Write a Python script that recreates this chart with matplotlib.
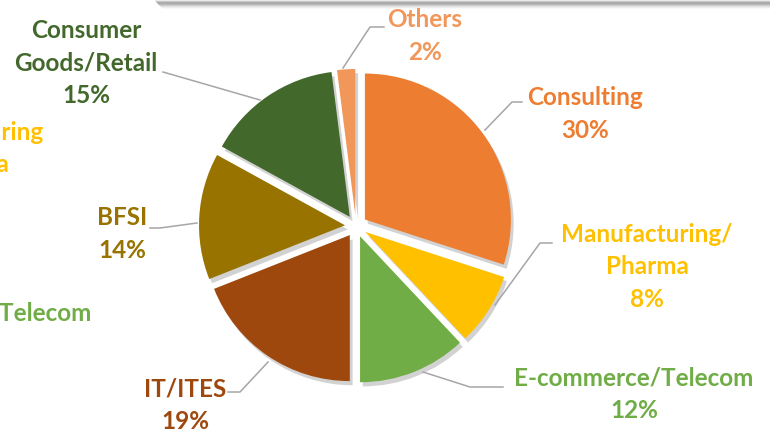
import matplotlib
matplotlib.use("Agg")
import matplotlib.pyplot as plt
import matplotlib.patheffects as pe

# Datos del gráfico (sentido horario desde las 12)
sectores = ["Consulting", "Manufacturing/\nPharma", "E-commerce/Telecom", "IT/ITES",
            "BFSI", "Consumer\nGoods/Retail", "Others"]
porcentajes = [30, 8, 12, 19, 14, 15, 2]
colores = ["#ED7D31", "#FFC000", "#70AD47", "#9E480E", "#997300", "#43682B", "#F1975A"]

H = 432
def iy(y):
    # coordenada de imagen (y hacia abajo) -> datos
    return H - y

fig = plt.figure(figsize=(7.7, 4.32), dpi=100)
ax = fig.add_axes([0, 0, 1, 1])

sombra = [pe.SimplePatchShadow(offset=(2, -3), shadow_rgbFace="#7f7f7f", alpha=0.35), pe.Normal()]
wedges, _ = ax.pie(porcentajes, colors=colores, startangle=90, counterclock=False,
                   explode=[11] * len(porcentajes), radius=146, center=(356, iy(226)),
                   wedgeprops=dict(linewidth=0, path_effects=sombra))

ax.set_xlim(0, 770)
ax.set_ylim(0, H)
ax.set_aspect("equal")
ax.axis("off")

# sombra de la caja superior
for i, a in enumerate([0.12, 0.25, 0.33, 0.28, 0.2, 0.12, 0.07, 0.03]):
    ax.plot([155 + i, 770], [iy(1 + i), iy(1 + i)], color="#404040", alpha=a, lw=1.2,
            solid_capstyle="butt")

fuente = dict(family="Lato", weight="bold", fontsize=17.5, ha="center", va="center",
              linespacing=1.5)

# etiquetas: (texto, x, y centro, color)
etiquetas = [
    ("Consulting\n30%", 585, 114, "#ED7D31"),
    ("Manufacturing/\nPharma\n8%", 647, 267, "#FFC000"),
    ("E-commerce/Telecom\n12%", 634, 394, "#70AD47"),
    ("IT/ITES\n19%", 185, 405, "#9E480E"),
    ("BFSI\n14%", 122, 234, "#997300"),
    ("Consumer\nGoods/Retail\n15%", 86, 63, "#43682B"),
    ("Others\n2%", 425, 36, "#F1975A"),
]
for txt, x, y, c in etiquetas:
    ax.text(x, iy(y), txt, color=c, **fuente)

# etiquetas fantasma recortadas a la izquierda (como en la diapositiva original)
fantasma = dict(family="Lato", weight="bold", fontsize=17.5, ha="right", va="center")
ax.text(43, iy(133), "Manufacturing", color="#FFC000", **fantasma)
ax.text(9, iy(165), "Pharma", color="#FFC000", **fantasma)
ax.text(91, iy(313), "E-commerce/Telecom", color="#70AD47", **fantasma)

# líneas guía
guias = [
    [(384, 27), (370, 27), (343, 68)],
    [(522, 102), (512, 102), (485, 130)],
    [(552, 243), (540, 243), (495, 305)],
    [(503, 387), (470, 387), (423, 372)],
    [(228, 392), (240, 392), (268, 362)],
    [(150, 228), (160, 228), (197, 223)],
    [(163, 72), (260, 100)],
]
for g in guias:
    xs = [p[0] for p in g]
    ys = [iy(p[1]) for p in g]
    ax.plot(xs, ys, color="#A6A6A6", lw=1.1)

fig.savefig("out.png", dpi=100)
plt.close(fig)
